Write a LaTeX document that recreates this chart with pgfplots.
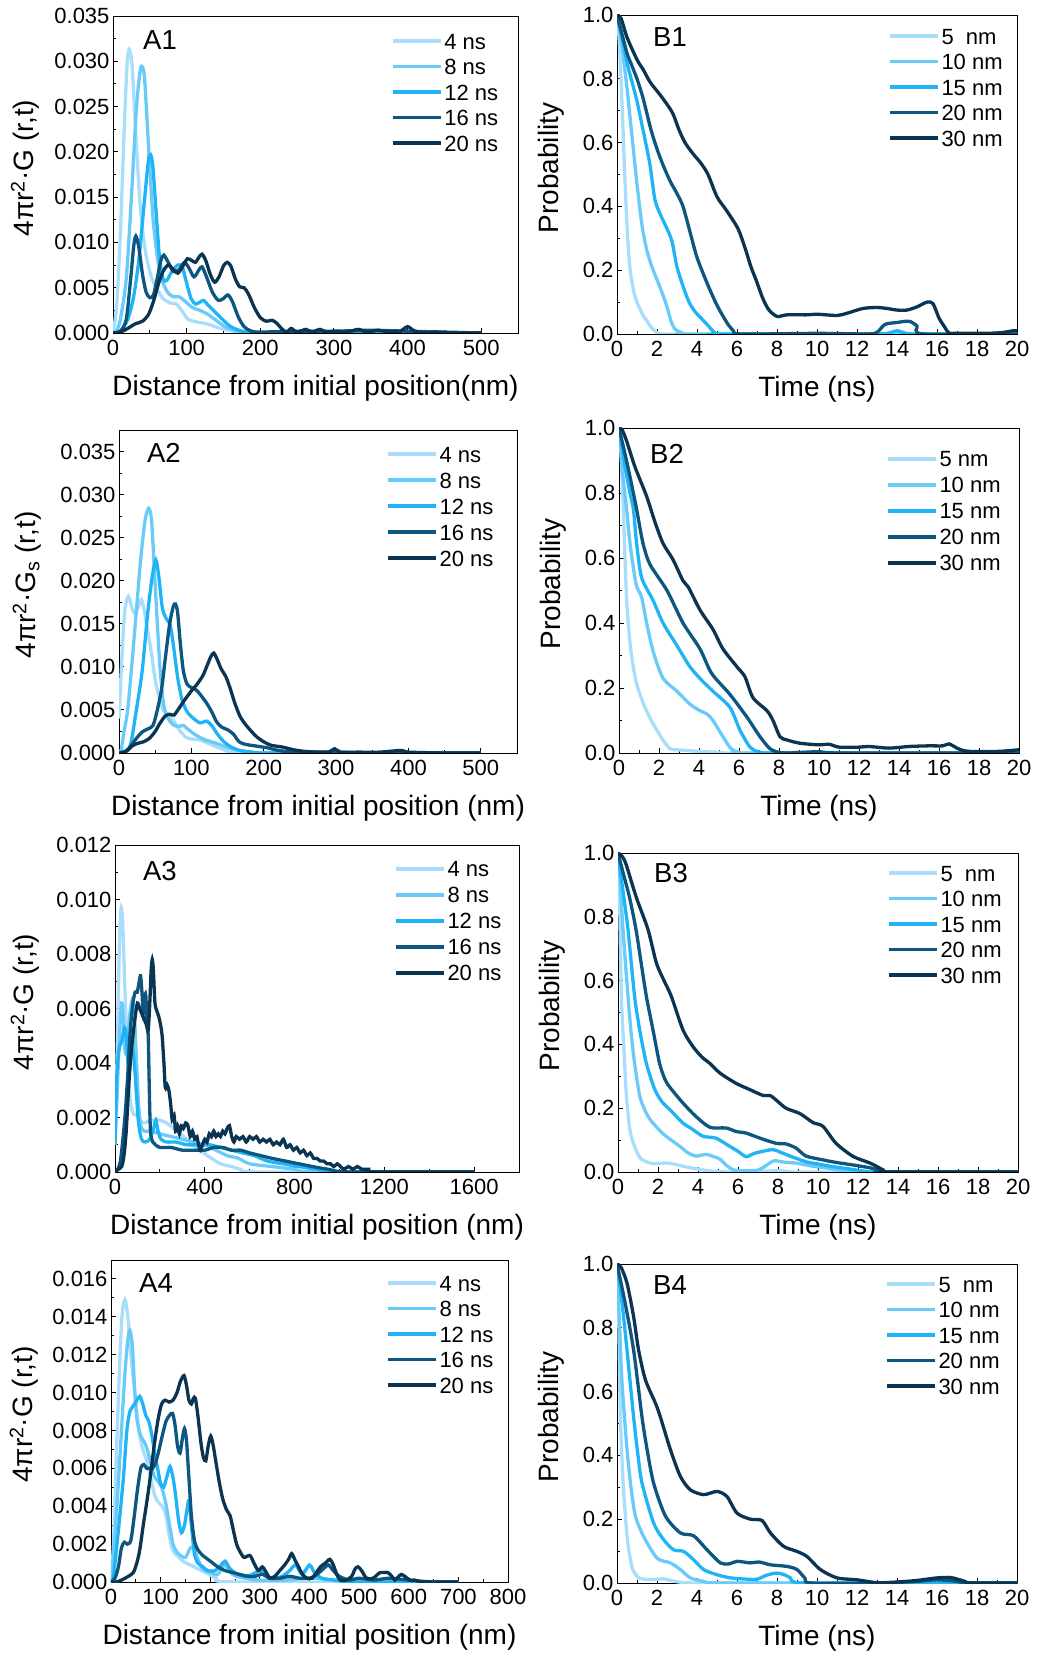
\documentclass[border=0pt]{standalone}
\usepackage{pgfplots}
\pgfplotsset{compat=1.18}
\usepackage{fontspec}
\setmainfont{Liberation Sans}
\definecolor{c1}{HTML}{A8DEFB}
\definecolor{c2}{HTML}{6BCBF8}
\definecolor{c3}{HTML}{20B4F6}
\definecolor{c4}{HTML}{0C5680}
\definecolor{c5}{HTML}{0A3452}
\newcommand\tfs{\fontsize{22}{26}\selectfont}
\newcommand\lfs{\fontsize{28}{32}\selectfont}
\newcommand\pfs{\fontsize{27.5}{31}\selectfont}
\tikzset{cv/.style={line width=3.3pt, smooth, tension=0.45}}
\pgfplotsset{
 panel/.style={
  scale only axis, anchor=south west,
  axis line style={line width=0.9pt},
  every tick/.style={black, line width=0.9pt},
  major tick length=5pt, minor tick length=3pt,
  tick align=inside, tick pos=left, minor tick num=1,
  tick label style={font=\tfs},
  xticklabel style={yshift=-4pt},
  /pgf/number format/assume math mode=true,
  /pgf/number format/set thousands separator={},
  label style={font=\lfs},
  xlabel style={at={(axis description cs:0.5,0)}, anchor=center, yshift=-55pt},
  legend cell align=left,
  legend image code/.code={\draw[##1, line width=3.3pt] (0pt,0pt) -- (48pt,0pt);},
  legend style={draw=none, fill=none, inner sep=0pt, row sep=5.5pt, font=\tfs,
     nodes={inner sep=2pt, text height=16pt, text depth=0pt}, anchor=north west},
 },
 aplot/.style={panel, scaled y ticks=false, xmin=0, ymin=0,
   yticklabel style={/pgf/number format/.cd, fixed, fixed zerofill, precision=3}},
 bplot/.style={panel, xmin=0, xmax=20, ymin=0, ymax=1,
   xtick={0,2,4,6,8,10,12,14,16,18,20}, ytick={0,0.2,0.4,0.6,0.8,1},
   yticklabel style={/pgf/number format/.cd, fixed, fixed zerofill, precision=1},
   xlabel={Time (ns)}, ylabel={Probability}, width=400pt},
}
\begin{document}
\begin{tikzpicture}
\useasboundingbox (0,0) rectangle (1036pt,1656pt);

% ---------------- A1 ----------------
\begin{axis}[aplot, at={(113pt,1323pt)}, width=405pt, height=317pt,
  xmax=550, ymax=0.035, xtick={0,100,200,300,400,500},
  ytick={0,0.005,0.010,0.015,0.020,0.025,0.030,0.035},
  xlabel={Distance from initial position(nm)},
  ylabel={4πr\textsuperscript{2}·G (r,t)},
  ylabel style={at={(axis description cs:-0.217,0.52)}, anchor=center},
  legend style={at={(axis description cs:0.686,0.953)}}]
\addplot[cv, c1] coordinates {(0,0) (5,0.003) (10,0.011) (15,0.022) (19,0.0295) (22,0.0313) (26,0.0295) (31,0.0220) (37,0.0140) (44,0.0090) (52,0.0062) (60,0.0048) (68,0.0038) (78,0.0033) (86,0.0032) (94,0.0024) (102,0.0015) (115,0.0012) (128,0.0010) (142,0.0006) (156,0.0003) (175,0.0001) (200,0) (500,0)};
\addplot[cv, c2] coordinates {(0,0) (5,0.0003) (10,0.0015) (18,0.006) (25,0.015) (32,0.025) (37,0.0290) (40,0.0294) (43,0.0280) (48,0.0210) (54,0.0130) (60,0.0085) (66,0.0060) (74,0.0045) (82,0.0040) (90,0.0040) (98,0.0035) (108,0.0028) (118,0.0025) (128,0.0021) (140,0.0014) (152,0.0007) (165,0.0003) (180,0.0001) (200,0) (300,0.0001) (400,0) (500,0)};
\addplot[cv, c3] coordinates {(0,0) (10,0.0002) (20,0.0015) (28,0.004) (35,0.008) (42,0.014) (48,0.0190) (51,0.0197) (54,0.0185) (58,0.0140) (63,0.0085) (68,0.0060) (73,0.0058) (80,0.0068) (88,0.0075) (94,0.0073) (100,0.0055) (106,0.0038) (112,0.0032) (118,0.0034) (123,0.0036) (130,0.0030) (140,0.0022) (150,0.0014) (160,0.0007) (175,0.0002) (190,0.0001) (210,0) (260,0.0002) (300,0.0001) (500,0)};
\addplot[cv, c4] coordinates {(0,0) (10,0.0002) (18,0.0015) (24,0.006) (28,0.0095) (31,0.0107) (35,0.0095) (40,0.0065) (45,0.0045) (50,0.0039) (55,0.0042) (60,0.0060) (65,0.0080) (69,0.0086) (75,0.0078) (82,0.0068) (90,0.0070) (97,0.0078) (103,0.0072) (110,0.0062) (117,0.0070) (121,0.0073) (127,0.0062) (135,0.0045) (143,0.0036) (150,0.0038) (156,0.0042) (162,0.0035) (170,0.0018) (178,0.0007) (188,0.0002) (200,0.0001) (250,0.0002) (300,0.0002) (350,0.0003) (400,0.0002) (450,0.0001) (500,0)};
\addplot[cv, c5] coordinates {(0,0) (10,0.0001) (20,0.0005) (30,0.0010) (40,0.0013) (48,0.0020) (55,0.0035) (62,0.0055) (68,0.0068) (75,0.0075) (82,0.0070) (88,0.0066) (95,0.0074) (101,0.0082) (107,0.0080) (112,0.0078) (117,0.0084) (121,0.0087) (126,0.0080) (132,0.0065) (138,0.0056) (144,0.0062) (150,0.0074) (155,0.0078) (160,0.0074) (166,0.0060) (172,0.0051) (178,0.0050) (184,0.0043) (192,0.0028) (200,0.0017) (208,0.0013) (216,0.0014) (222,0.0011) (230,0.0004) (236,0.0001) (242,0.0005) (250,0.0001) (262,0.0004) (270,0.0001) (281,0.0004) (290,0.0001) (300,0.0002) (318,0.0001) (333,0.0004) (345,0.0001) (360,0.0003) (375,0.0001) (390,0.0002) (400,0.0007) (410,0.0002) (425,0) (440,0.0001) (460,0) (500,0)};
\legend{4 ns, 8 ns, 12 ns, 16 ns, 20 ns}
\node[anchor=west, inner sep=0pt, font=\pfs] at (axis description cs:0.074,0.924) {A1};
\end{axis}

% ---------------- B1 ----------------
\begin{axis}[bplot, at={(617pt,1322pt)}, height=319pt,
  ylabel style={at={(axis description cs:-0.165,0.52)}, anchor=center},
  legend style={at={(axis description cs:0.6775,0.966)}}]
\addplot[cv, c1] coordinates {(0,1) (0.1,0.93) (0.2,0.80) (0.3,0.64) (0.4,0.48) (0.5,0.34) (0.6,0.24) (0.7,0.18) (0.85,0.13) (1.0,0.10) (1.25,0.065) (1.5,0.04) (1.75,0.018) (2.0,0.005) (2.3,0) (5,0) (10,0) (20,0)};
\addplot[cv, c2] coordinates {(0,1) (0.25,0.90) (0.5,0.77) (0.75,0.62) (1.0,0.47) (1.25,0.34) (1.5,0.26) (1.75,0.21) (2.0,0.17) (2.25,0.13) (2.5,0.085) (2.7,0.04) (2.9,0.015) (3.2,0.005) (3.6,0) (10,0) (20,0)};
\addplot[cv, c3] coordinates {(0,1) (0.25,0.93) (0.5,0.85) (0.75,0.79) (1.0,0.73) (1.2,0.67) (1.4,0.61) (1.65,0.53) (1.9,0.42) (2.2,0.37) (2.5,0.33) (2.75,0.29) (3.0,0.21) (3.3,0.15) (3.6,0.10) (3.9,0.07) (4.2,0.05) (4.5,0.03) (4.9,0.003) (5.2,0) (10,0) (13,0) (13.6,0.003) (14,0.01) (14.4,0.003) (15,0) (20,0)};
\addplot[cv, c4] coordinates {(0,1) (0.25,0.94) (0.5,0.88) (0.75,0.84) (1.0,0.80) (1.3,0.74) (1.7,0.64) (2.0,0.58) (2.3,0.53) (2.65,0.48) (3.0,0.44) (3.3,0.40) (3.65,0.32) (4.0,0.24) (4.5,0.16) (5.0,0.09) (5.5,0.035) (5.8,0.012) (6.2,0) (10,0.002) (12.5,0) (13.0,0.005) (13.4,0.03) (14.0,0.036) (14.6,0.04) (15.0,0.025) (15.3,0) (20,0)};
\addplot[cv, c5] coordinates {(0,1) (0.2,0.99) (0.5,0.93) (1.0,0.86) (1.3,0.83) (1.65,0.79) (2.15,0.75) (2.5,0.72) (2.8,0.69) (3.1,0.64) (3.4,0.60) (3.8,0.565) (4.2,0.535) (4.55,0.50) (5.0,0.43) (5.5,0.385) (6.05,0.33) (6.4,0.27) (6.7,0.21) (6.95,0.17) (7.3,0.11) (7.6,0.075) (8.0,0.055) (8.5,0.06) (9.5,0.06) (10.0,0.062) (11.0,0.058) (11.5,0.065) (12.3,0.08) (13.0,0.083) (13.5,0.08) (14.0,0.075) (14.5,0.075) (15.0,0.085) (15.5,0.10) (15.8,0.095) (16.1,0.05) (16.4,0.02) (16.6,0.003) (17,0.002) (19,0.003) (19.8,0.01) (20,0.01)};
\legend{5\ \ nm, 10 nm, 15 nm, 20 nm, 30 nm}
\node[anchor=west, inner sep=0pt, font=\pfs] at (axis description cs:0.09,0.931) {B1};
\end{axis}

% ---------------- A2 ----------------
\begin{axis}[aplot, at={(119pt,903pt)}, width=398pt, height=323pt,
  xmax=550, ymax=0.0375, xtick={0,100,200,300,400,500},
  ytick={0,0.005,0.010,0.015,0.020,0.025,0.030,0.035},
  xlabel={Distance from initial position (nm)},
  ylabel={4πr\textsuperscript{2}·G\textsubscript{s} (r,t)},
  ylabel style={at={(axis description cs:-0.231,0.52)}, anchor=center},
  legend style={at={(axis description cs:0.671,0.957)}, row sep=6pt}]
\addplot[cv, c1] coordinates {(0,0.004) (4,0.011) (8,0.0165) (13,0.0182) (18,0.0168) (22,0.0162) (27,0.0170) (31,0.0178) (35,0.0165) (40,0.0140) (45,0.0115) (50,0.0085) (55,0.0066) (61,0.0050) (68,0.0044) (75,0.0038) (84,0.0026) (93,0.0018) (102,0.0016) (112,0.0015) (124,0.0011) (135,0.0007) (148,0.0003) (160,0.0001) (180,0) (500,0)};
\addplot[cv, c2] coordinates {(0,0) (3,0.0003) (6,0.002) (12,0.005) (18,0.0105) (24,0.0165) (30,0.0225) (36,0.0270) (41,0.0284) (45,0.0270) (49,0.0210) (53,0.0150) (57,0.0095) (62,0.0055) (68,0.0040) (76,0.0032) (84,0.0031) (89,0.0032) (96,0.0027) (104,0.0022) (114,0.0017) (124,0.0014) (135,0.0011) (148,0.0007) (160,0.0004) (180,0.0001) (210,0) (500,0)};
\addplot[cv, c3] coordinates {(0,0) (8,0.0002) (16,0.001) (24,0.005) (32,0.0095) (40,0.0165) (46,0.0205) (51,0.0224) (55,0.0205) (60,0.0168) (66,0.0155) (71,0.0148) (76,0.0120) (81,0.0088) (87,0.0062) (94,0.0048) (103,0.0040) (112,0.0035) (121,0.0037) (128,0.0032) (136,0.0022) (145,0.0013) (155,0.0007) (167,0.0003) (185,0.0001) (210,0) (500,0)};
\addplot[cv, c4] coordinates {(0,0) (10,0.0002) (18,0.0010) (25,0.0018) (33,0.0025) (40,0.0028) (47,0.0032) (53,0.0050) (59,0.0075) (64,0.0110) (70,0.0150) (75,0.0170) (78,0.0173) (81,0.0163) (85,0.0125) (89,0.0095) (94,0.0080) (100,0.0076) (107,0.0073) (114,0.0066) (121,0.0058) (128,0.0048) (135,0.0036) (142,0.0030) (150,0.0027) (158,0.0022) (166,0.0013) (175,0.0010) (190,0.0008) (205,0.0006) (220,0.0003) (240,0.0001) (270,0.0001) (300,0.0001) (350,0) (500,0)};
\addplot[cv, c5] coordinates {(0,0) (10,0.0002) (18,0.0008) (25,0.0011) (34,0.0013) (42,0.0017) (50,0.0025) (57,0.0035) (64,0.0043) (70,0.0045) (76,0.0044) (83,0.0052) (91,0.0062) (100,0.0072) (108,0.0080) (116,0.0090) (122,0.0102) (127,0.0112) (131,0.0116) (136,0.0108) (141,0.0098) (148,0.0088) (154,0.0074) (160,0.0058) (167,0.0043) (174,0.0034) (182,0.0026) (190,0.0019) (200,0.0013) (210,0.0009) (225,0.0007) (240,0.0004) (255,0.0002) (275,0.0001) (290,0.0001) (298,0.0005) (306,0.0001) (330,0.0001) (360,0.0001) (390,0.0003) (400,0.0001) (450,0) (500,0)};
\legend{4 ns, 8 ns, 12 ns, 16 ns, 20 ns}
\node[anchor=west, inner sep=0pt, font=\pfs] at (axis description cs:0.070,0.929) {A2};
\end{axis}

% ---------------- B2 ----------------
\begin{axis}[bplot, at={(619pt,903pt)}, height=325pt,
  ylabel style={at={(axis description cs:-0.165,0.52)}, anchor=center},
  legend style={at={(axis description cs:0.6675,0.936)}, row sep=6pt}]
\addplot[cv, c1] coordinates {(0,1) (0.1,0.92) (0.2,0.78) (0.3,0.60) (0.4,0.45) (0.55,0.34) (0.7,0.27) (0.85,0.22) (1.05,0.18) (1.3,0.14) (1.7,0.09) (2.0,0.06) (2.2,0.04) (2.55,0.013) (2.9,0.01) (3.3,0.008) (4,0.005) (5,0.002) (6,0) (20,0)};
\addplot[cv, c2] coordinates {(0,1) (0.2,0.85) (0.38,0.75) (0.55,0.645) (0.85,0.52) (1.13,0.48) (1.38,0.40) (1.72,0.31) (2.2,0.23) (2.9,0.19) (3.55,0.15) (4.05,0.13) (4.4,0.12) (4.7,0.10) (5.2,0.05) (5.6,0.013) (6.0,0.002) (6.5,0) (20,0)};
\addplot[cv, c3] coordinates {(0,1) (0.3,0.88) (0.55,0.80) (0.72,0.75) (0.88,0.645) (1.13,0.54) (1.7,0.47) (2.2,0.40) (2.9,0.33) (3.55,0.265) (4.13,0.224) (4.7,0.19) (5.55,0.14) (6.05,0.07) (6.55,0.018) (7.0,0.003) (7.5,0) (10,0.002) (12,0) (20,0)};
\addplot[cv, c4] coordinates {(0,1) (0.3,0.92) (0.55,0.85) (0.88,0.75) (1.2,0.645) (1.55,0.58) (2.4,0.50) (3.2,0.40) (4.05,0.32) (4.63,0.245) (5.55,0.18) (6.4,0.11) (7.05,0.05) (7.55,0.013) (8.0,0.002) (8.5,0) (10,0.004) (11,0) (20,0)};
\addplot[cv, c5] coordinates {(0,1) (0.15,0.995) (0.38,0.96) (0.8,0.88) (1.38,0.79) (1.8,0.71) (2.2,0.645) (2.7,0.595) (3.2,0.53) (3.47,0.51) (4.05,0.44) (4.7,0.38) (5.2,0.32) (5.9,0.265) (6.3,0.234) (6.7,0.17) (7.4,0.13) (7.7,0.10) (8.05,0.05) (8.4,0.04) (9.05,0.03) (10,0.025) (10.5,0.027) (11,0.018) (12,0.018) (12.5,0.02) (13.5,0.015) (14.5,0.02) (15.5,0.022) (16.2,0.022) (16.5,0.028) (17,0.012) (17.5,0.005) (19,0.005) (20,0.01)};
\legend{5 nm, 10 nm, 15 nm, 20 nm, 30 nm}
\node[anchor=west, inner sep=0pt, font=\pfs] at (axis description cs:0.0775,0.92) {B2};
\end{axis}

% ---------------- A3 ----------------
\begin{axis}[aplot, at={(115pt,484pt)}, width=404pt, height=327pt,
  xmax=1800, ymax=0.012, xtick={0,400,800,1200,1600},
  ytick={0,0.002,0.004,0.006,0.008,0.010,0.012},
  xlabel={Distance from initial position (nm)},
  ylabel={4πr\textsuperscript{2}·G (r,t)},
  ylabel style={at={(axis description cs:-0.223,0.52)}, anchor=center},
  legend style={at={(axis description cs:0.6906,0.958)}, row sep=6pt}]
\addplot[cv, c1] coordinates {(0,0.001) (10,0.0045) (20,0.0085) (28,0.0097) (35,0.0090) (45,0.0065) (53,0.0048) (62,0.0033) (70,0.0025) (78,0.0022) (86,0.0021) (95,0.0021) (110,0.0019) (130,0.0018) (160,0.0019) (200,0.0019) (230,0.0018) (260,0.0016) (290,0.0014) (320,0.0012) (360,0.0009) (395,0.0007) (430,0.0005) (470,0.0003) (520,0.0002) (560,0.0001) (650,0) (1600,0)};
\addplot[cv, c2] coordinates {(0,0.001) (10,0.003) (20,0.0050) (30,0.0062) (38,0.0055) (45,0.0044) (55,0.0046) (65,0.0057) (76,0.0063) (86,0.0058) (96,0.0040) (105,0.0025) (115,0.0017) (130,0.0015) (160,0.0015) (200,0.0014) (250,0.0013) (300,0.0012) (350,0.0011) (400,0.0010) (450,0.0008) (500,0.0006) (550,0.0005) (600,0.0003) (700,0.0002) (800,0.0001) (900,0) (1600,0)};
\addplot[cv, c3] coordinates {(0,0.001) (8,0.0035) (18,0.0045) (30,0.0048) (42,0.0053) (50,0.0050) (58,0.0040) (66,0.0042) (76,0.0046) (86,0.0040) (96,0.0028) (105,0.0018) (118,0.0012) (135,0.0011) (155,0.0012) (172,0.0016) (182,0.0019) (192,0.0015) (205,0.0012) (230,0.0011) (270,0.0011) (320,0.0010) (370,0.0010) (420,0.0010) (470,0.0009) (520,0.0008) (570,0.0007) (620,0.0006) (680,0.0004) (750,0.0003) (820,0.0002) (900,0.0001) (1000,0) (1600,0)};
\addplot[cv, c4] coordinates {(0,0) (12,0.0001) (24,0.0004) (35,0.0012) (46,0.0022) (57,0.0036) (68,0.0052) (80,0.0062) (90,0.0066) (99,0.0066) (108,0.0070) (114,0.0072) (120,0.0066) (126,0.0058) (132,0.0064) (137,0.0065) (143,0.0055) (148,0.0050) (153,0.0030) (158,0.0015) (168,0.0011) (180,0.0010) (200,0.0009) (250,0.0009) (300,0.0008) (350,0.0008) (400,0.0008) (440,0.0009) (480,0.0009) (520,0.0008) (560,0.0008) (600,0.0007) (650,0.0006) (700,0.0005) (760,0.0004) (820,0.0003) (880,0.0002) (950,0.0001) (1050,0) (1600,0)};
\addplot[cv, c5] coordinates {(0,0) (15,0.0001) (30,0.0002) (40,0.0006) (50,0.0015) (60,0.0030) (70,0.0042) (80,0.0050) (90,0.0057) (100,0.0062) (110,0.0060) (120,0.0058) (130,0.0056) (140,0.0054) (148,0.0052) (155,0.0062) (161,0.0074) (166,0.0078) (171,0.0074) (178,0.0062) (187,0.0059) (195,0.0057) (203,0.0054) (210,0.0050) (218,0.0040) (224,0.0031) (232,0.0032) (240,0.0030) (248,0.0025) (255,0.0019) (263,0.0021) (270,0.0015) (278,0.0017) (287,0.0014) (295,0.0017) (305,0.0016) (315,0.0018) (325,0.0017) (335,0.0013) (345,0.0015) (355,0.0012) (365,0.0013) (372,0.0010) (380,0.0008) (390,0.0010) (400,0.0012) (410,0.0011) (420,0.0014) (430,0.0013) (440,0.0015) (450,0.0013) (460,0.0014) (470,0.0013) (480,0.0015) (490,0.0014) (500,0.0016) (510,0.0017) (520,0.0013) (530,0.0011) (540,0.0013) (555,0.0012) (570,0.0013) (585,0.0011) (600,0.0013) (615,0.0012) (630,0.0013) (645,0.0011) (660,0.0012) (675,0.0011) (690,0.0012) (705,0.0010) (720,0.0011) (735,0.0010) (750,0.0012) (765,0.0009) (780,0.0010) (795,0.0008) (810,0.0009) (825,0.0007) (840,0.0008) (855,0.0006) (870,0.0007) (885,0.0005) (900,0.0005) (915,0.0004) (930,0.0004) (945,0.0003) (960,0.0003) (975,0.0002) (990,0.0003) (1005,0.0002) (1020,0.0001) (1040,0.0002) (1060,0.0001) (1080,0.0002) (1100,0.0001) (1130,0.0001) (1160,0) (1600,0)};
\legend{4 ns, 8 ns, 12 ns, 16 ns, 20 ns}
\node[anchor=west, inner sep=0pt, font=\pfs] at (axis description cs:0.069,0.9205) {A3};
\end{axis}

% ---------------- B3 ----------------
\begin{axis}[bplot, at={(618pt,484pt)}, height=319pt,
  ylabel style={at={(axis description cs:-0.165,0.52)}, anchor=center},
  legend style={at={(axis description cs:0.6725,0.969)}}]
\addplot[cv, c1] coordinates {(0,1) (0.08,0.85) (0.17,0.55) (0.3,0.38) (0.42,0.24) (0.6,0.13) (0.83,0.08) (1.0,0.055) (1.17,0.04) (1.6,0.028) (2.0,0.027) (2.5,0.028) (3.0,0.022) (3.4,0.016) (4.0,0.009) (4.5,0.004) (5.0,0.001) (6,0) (7.5,0.003) (8,0.005) (8.5,0.002) (9,0) (20,0)};
\addplot[cv, c2] coordinates {(0,1) (0.12,0.90) (0.25,0.76) (0.5,0.55) (0.65,0.44) (0.83,0.34) (1.08,0.24) (1.3,0.20) (1.6,0.165) (2.25,0.12) (3.1,0.08) (3.5,0.06) (3.9,0.05) (4.4,0.055) (4.8,0.048) (5.1,0.04) (5.4,0.022) (5.75,0.007) (6.2,0.004) (7.0,0.006) (7.4,0.02) (7.8,0.035) (8.4,0.03) (8.9,0.028) (9.75,0.018) (10.5,0.012) (11,0.007) (12,0) (20,0)};
\addplot[cv, c3] coordinates {(0,1) (0.25,0.88) (0.5,0.76) (0.83,0.55) (1.1,0.44) (1.42,0.34) (1.83,0.26) (2.2,0.22) (2.6,0.195) (3.25,0.153) (3.7,0.135) (4.25,0.112) (4.9,0.106) (5.6,0.08) (6.0,0.065) (6.4,0.048) (6.8,0.058) (7.25,0.065) (7.75,0.07) (8.2,0.06) (8.6,0.05) (9.4,0.032) (10.0,0.025) (10.6,0.018) (11.5,0.01) (12.5,0.001) (13,0) (20,0)};
\addplot[cv, c4] coordinates {(0,1) (0.33,0.92) (0.58,0.86) (0.9,0.76) (1.17,0.65) (1.42,0.55) (1.75,0.445) (2.08,0.34) (2.35,0.29) (2.6,0.265) (3.25,0.216) (3.9,0.174) (4.6,0.14) (5.4,0.138) (5.9,0.127) (6.4,0.122) (7.1,0.106) (7.9,0.09) (8.4,0.088) (8.9,0.075) (9.4,0.05) (10.25,0.038) (10.9,0.03) (11.75,0.022) (12.6,0.013) (13.2,0.003) (13.6,0) (20,0)};
\addplot[cv, c5] coordinates {(0,1) (0.2,0.99) (0.4,0.965) (0.92,0.86) (1.5,0.76) (1.92,0.655) (2.3,0.60) (2.67,0.55) (3.25,0.445) (3.75,0.393) (4.2,0.36) (4.6,0.34) (5.1,0.31) (5.9,0.278) (6.6,0.258) (7.25,0.24) (7.6,0.24) (7.9,0.226) (8.4,0.20) (9.1,0.183) (9.75,0.155) (10.25,0.143) (10.9,0.09) (11.75,0.049) (12.6,0.028) (13.25,0.007) (13.6,0) (20,0)};
\legend{5\ \ nm, 10 nm, 15 nm, 20 nm, 30 nm}
\node[anchor=west, inner sep=0pt, font=\pfs] at (axis description cs:0.09,0.937) {B3};
\end{axis}

% ---------------- A4 ----------------
\begin{axis}[aplot, at={(111pt,74pt)}, width=397pt, height=322pt,
  xmax=800, ymax=0.017, xtick={0,100,200,300,400,500,600,700,800},
  ytick={0,0.002,0.004,0.006,0.008,0.010,0.012,0.014,0.016},
  xlabel={Distance from initial position (nm)},
  ylabel={4πr\textsuperscript{2}·G (r,t)},
  ylabel style={at={(axis description cs:-0.219,0.52)}, anchor=center},
  legend style={at={(axis description cs:0.6927,0.960)}}]
\addplot[cv, c1] coordinates {(0,0) (5,0.002) (10,0.006) (16,0.0105) (22,0.0140) (28,0.0149) (34,0.0140) (40,0.0120) (48,0.0100) (56,0.0080) (64,0.0070) (72,0.0064) (80,0.0055) (89,0.0045) (96,0.0042) (103,0.0040) (110,0.0036) (117,0.0025) (124,0.0017) (133,0.0014) (145,0.0011) (160,0.0009) (175,0.0007) (190,0.0005) (213,0.0002) (250,0) (700,0)};
\addplot[cv, c2] coordinates {(0,0) (5,0.0015) (12,0.004) (20,0.0075) (28,0.0110) (34,0.0128) (38,0.0133) (43,0.0125) (48,0.0100) (53,0.0085) (60,0.0077) (67,0.0074) (73,0.0070) (80,0.0063) (87,0.0056) (95,0.0053) (102,0.0050) (110,0.0042) (118,0.0030) (125,0.0020) (132,0.0016) (140,0.0014) (150,0.0013) (160,0.0018) (167,0.0018) (175,0.0012) (185,0.0007) (200,0.0005) (215,0.0004) (230,0.0009) (245,0.0004) (270,0.0002) (300,0.0001) (350,0.0001) (400,0.0002) (450,0.0001) (500,0) (700,0)};
\addplot[cv, c3] coordinates {(0,0) (5,0.0003) (10,0.0015) (16,0.0030) (25,0.0055) (32,0.0080) (38,0.0090) (45,0.0093) (52,0.0096) (58,0.0098) (64,0.0094) (70,0.0088) (76,0.0085) (82,0.0078) (88,0.0068) (94,0.0060) (100,0.0052) (106,0.0050) (113,0.0056) (119,0.0061) (125,0.0055) (130,0.0046) (136,0.0033) (142,0.0026) (148,0.0030) (153,0.0038) (157,0.0043) (162,0.0030) (168,0.0015) (175,0.0010) (185,0.0008) (195,0.0006) (210,0.0006) (222,0.0009) (230,0.0011) (240,0.0007) (255,0.0004) (270,0.0003) (285,0.0004) (300,0.0006) (315,0.0003) (330,0.0002) (345,0.0003) (360,0.0006) (372,0.0009) (385,0.0004) (400,0.0009) (410,0.0005) (425,0.0002) (450,0.0001) (500,0) (700,0)};
\addplot[cv, c4] coordinates {(0,0) (8,0.0002) (15,0.0008) (21,0.0018) (27,0.0021) (33,0.0020) (40,0.0022) (47,0.0035) (53,0.0048) (60,0.0060) (66,0.0062) (72,0.0060) (78,0.0060) (84,0.0060) (90,0.0063) (97,0.0070) (104,0.0078) (111,0.0085) (118,0.0088) (124,0.0089) (129,0.0083) (134,0.0072) (139,0.0068) (144,0.0076) (148,0.0081) (152,0.0075) (157,0.0055) (162,0.0035) (168,0.0022) (175,0.0017) (185,0.0014) (195,0.0012) (205,0.0010) (215,0.0008) (230,0.0006) (245,0.0005) (260,0.0004) (275,0.0003) (290,0.0003) (305,0.0004) (320,0.0002) (340,0.0002) (360,0.0003) (380,0.0002) (400,0.0002) (415,0.0004) (428,0.0007) (438,0.0009) (448,0.0006) (460,0.0003) (480,0.0001) (500,0.0002) (530,0.0001) (560,0.0002) (600,0.0001) (650,0) (700,0)};
\addplot[cv, c5] coordinates {(0,0) (10,0) (21,0.0001) (35,0.0003) (45,0.0005) (52,0.0010) (58,0.0017) (65,0.0030) (72,0.0042) (79,0.0055) (87,0.0072) (95,0.0086) (102,0.0094) (109,0.0096) (117,0.0095) (125,0.0096) (133,0.0100) (140,0.0106) (147,0.0109) (152,0.0104) (157,0.0096) (162,0.0094) (166,0.0097) (170,0.0097) (175,0.0088) (181,0.0074) (186,0.0066) (191,0.0064) (196,0.0072) (201,0.0077) (206,0.0072) (211,0.0064) (218,0.0053) (225,0.0044) (233,0.0038) (240,0.0035) (246,0.0028) (253,0.0020) (260,0.0016) (268,0.0013) (280,0.0014) (288,0.0010) (297,0.0006) (305,0.0008) (313,0.0005) (320,0.0002) (330,0.0003) (340,0.0006) (350,0.0009) (358,0.0012) (364,0.0015) (370,0.0012) (378,0.0008) (386,0.0004) (395,0.0002) (405,0.0002) (414,0.0005) (422,0.0008) (432,0.0010) (441,0.0012) (448,0.0009) (455,0.0004) (462,0.0001) (474,0.0001) (485,0.0003) (492,0.0007) (498,0.0008) (505,0.0006) (515,0.0002) (528,0.0002) (542,0.0005) (550,0.0005) (558,0.0005) (566,0.0003) (572,0.0001) (580,0.0003) (585,0.0004) (592,0.0003) (602,0.0001) (612,0.0001) (625,0) (650,0) (700,0)};
\legend{4 ns, 8 ns, 12 ns, 16 ns, 20 ns}
\node[anchor=west, inner sep=0pt, font=\pfs] at (axis description cs:0.0705,0.929) {A4};
\end{axis}

% ---------------- B4 ----------------
\begin{axis}[bplot, at={(617pt,73pt)}, height=319pt,
  ylabel style={at={(axis description cs:-0.165,0.52)}, anchor=center},
  legend style={at={(axis description cs:0.67,0.969)}}]
\addplot[cv, c1] coordinates {(0,1) (0.08,0.85) (0.17,0.52) (0.3,0.32) (0.42,0.21) (0.55,0.12) (0.75,0.05) (0.95,0.025) (1.17,0.014) (1.7,0.01) (2.0,0.012) (2.33,0.013) (2.7,0.008) (3.0,0.004) (4,0) (10,0) (20,0)};
\addplot[cv, c2] coordinates {(0,1) (0.12,0.82) (0.25,0.63) (0.5,0.42) (0.7,0.30) (0.92,0.21) (1.33,0.146) (2.0,0.078) (2.67,0.063) (3.17,0.042) (3.67,0.016) (4.33,0.005) (5,0) (10,0) (20,0)};
\addplot[cv, c3] coordinates {(0,1) (0.25,0.88) (0.5,0.73) (0.83,0.52) (1.05,0.40) (1.25,0.313) (1.83,0.188) (2.33,0.136) (2.83,0.104) (3.33,0.099) (3.83,0.073) (4.33,0.042) (5.0,0.026) (5.67,0.016) (6.5,0.012) (7.0,0.012) (7.5,0.025) (8.0,0.031) (8.4,0.025) (8.67,0.016) (9.2,0) (14,0) (20,0)};
\addplot[cv, c4] coordinates {(0,1) (0.4,0.88) (0.83,0.73) (1.25,0.52) (1.5,0.42) (1.83,0.313) (2.42,0.21) (3.17,0.157) (3.83,0.148) (4.5,0.104) (5.17,0.063) (5.6,0.06) (6.0,0.068) (6.67,0.063) (7.1,0.066) (7.67,0.057) (8.5,0.052) (9.0,0.042) (9.4,0.015) (9.7,0) (13,0) (15,0.005) (16,0.01) (17,0.005) (17.5,0) (20,0)};
\addplot[cv, c5] coordinates {(0,1) (0.2,0.99) (0.5,0.94) (0.83,0.835) (1.08,0.73) (1.42,0.637) (1.92,0.564) (2.17,0.52) (2.67,0.418) (3.17,0.334) (3.67,0.292) (4.33,0.277) (5.0,0.287) (5.5,0.271) (6.0,0.219) (6.67,0.20) (7.25,0.196) (7.67,0.157) (8.33,0.115) (9.0,0.099) (9.5,0.083) (10.17,0.042) (11.0,0.016) (12.0,0.01) (13,0.001) (14,0.003) (15,0.008) (16,0.016) (16.7,0.017) (17.4,0.005) (17.7,0) (20,0)};
\legend{5\ \ nm, 10 nm, 15 nm, 20 nm, 30 nm}
\node[anchor=west, inner sep=0pt, font=\pfs] at (axis description cs:0.09,0.934) {B4};
\end{axis}
\end{tikzpicture}
\end{document}
